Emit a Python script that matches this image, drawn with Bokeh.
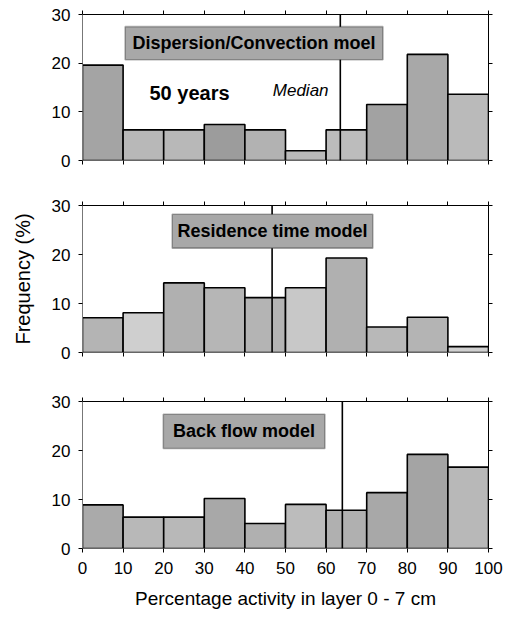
from bokeh.plotting import figure
from bokeh.layouts import column
from bokeh.models import Range1d, LinearAxis, FixedTicker, Span, BoxAnnotation, Label, ColumnDataSource
from bokeh.embed import file_html
from bokeh.resources import INLINE

# ---------------- data ----------------
bin_left = [0, 10, 20, 30, 40, 50, 60, 70, 80, 90]
bin_right = [10, 20, 30, 40, 50, 60, 70, 80, 90, 100]
x_ticks = [0, 10, 20, 30, 40, 50, 60, 70, 80, 90, 100]
y_ticks = [0, 10, 20, 30]

dispersion_freq = [19.6, 6.3, 6.3, 7.4, 6.3, 2.0, 6.3, 11.5, 21.8, 13.6]
residence_freq = [7.1, 8.1, 14.2, 13.2, 11.2, 13.2, 19.3, 5.2, 7.2, 1.2]
backflow_freq = [8.9, 6.4, 6.4, 10.2, 5.1, 9.0, 7.8, 11.4, 19.2, 16.6]
medians = [63.5, 46.7, 64.0]
model_names = ["Dispersion/Convection moel", "Residence time model", "Back flow model"]

# ---------------- styles ----------------
FONT = "Liberation Sans"
shades = [
    ["#a4a4a4", "#b8b8b8", "#b8b8b8", "#9c9c9c", "#b2b2b2", "#bababa", "#bcbcbc", "#a2a2a2", "#a8a8a8", "#bababa"],
    ["#b4b4b4", "#cfcfcf", "#b0b0b0", "#b6b6b6", "#b4b4b4", "#c8c8c8", "#b0b0b0", "#b8b8b8", "#b4b4b4", "#d0d0d0"],
    ["#aaaaaa", "#b8b8b8", "#b8b8b8", "#a8a8a8", "#b0b0b0", "#bcbcbc", "#b0b0b0", "#a8a8a8", "#a4a4a4", "#b8b8b8"],
]
# label box extents (data units): left, right, bottom, top
boxes = [(10.5, 74.0, 20.7, 27.5), (22.1, 71.5, 21.3, 28.2), (19.9, 59.7, 20.4, 27.4)]
layouts = [
    dict(height=190, top=14, bottom=30),
    dict(height=190, top=15, bottom=28),
    dict(height=242, top=21, bottom=74),
]
series = [dispersion_freq, residence_freq, backflow_freq]


def style_axis(ax, labels=True, line_color="#000000"):
    ax.axis_line_color = line_color
    ax.axis_line_width = 1
    ax.major_tick_line_color = "#000000"
    ax.major_tick_out = 4
    ax.major_tick_in = 0
    ax.minor_tick_line_color = None
    if labels:
        ax.major_label_text_font = FONT
        ax.major_label_text_font_size = "17px"
        ax.major_label_text_color = "#000000"
    else:
        ax.major_label_text_font_size = "1px"
        ax.major_label_overrides = {t: "" for t in x_ticks}


figs = []
for i in range(3):
    lay = layouts[i]
    p = figure(width=507, height=lay["height"], output_backend="svg", toolbar_location=None,
               x_range=Range1d(0, 100), y_range=Range1d(0, 30),
               x_axis_location=None, y_axis_location=None,
               min_border_left=82, min_border_right=19,
               min_border_top=lay["top"], min_border_bottom=lay["bottom"])
    p.outline_line_color = None
    p.grid.visible = False
    p.background_fill_color = "white"
    p.border_fill_color = "white"

    xb = LinearAxis(ticker=FixedTicker(ticks=x_ticks))
    style_axis(xb, labels=(i == 2), line_color="#666666")
    xt = LinearAxis(ticker=FixedTicker(ticks=x_ticks))
    style_axis(xt, labels=False)
    yl = LinearAxis(ticker=FixedTicker(ticks=y_ticks))
    style_axis(yl, labels=True, line_color="#777777")
    yr = LinearAxis(ticker=FixedTicker(ticks=y_ticks))
    style_axis(yr, labels=False)
    if i == 2:
        xb.major_label_standoff = 9
        xb.axis_label = "Percentage activity in layer 0 - 7 cm"
        xb.axis_label_text_font = FONT
        xb.axis_label_text_font_size = "19px"
        xb.axis_label_text_font_style = "normal"
        xb.axis_label_text_color = "#000000"
        xb.axis_label_standoff = 11
    if i == 1:
        yl.axis_label = "Frequency (%)"
        yl.axis_label_text_font = FONT
        yl.axis_label_text_font_size = "20px"
        yl.axis_label_text_font_style = "normal"
        yl.axis_label_text_color = "#000000"
        yl.axis_label_standoff = 15
    yl.major_label_standoff = 8
    p.add_layout(xb, "below")
    p.add_layout(xt, "above")
    p.add_layout(yl, "left")
    p.add_layout(yr, "right")

    src = ColumnDataSource(dict(left=bin_left, right=bin_right, top=series[i],
                                bottom=[0] * len(bin_left), color=shades[i]))
    p.quad(left="left", right="right", top="top", bottom="bottom", source=src,
           fill_color="color", line_color="#000000", line_width=1.6)

    p.add_layout(Span(location=medians[i], dimension="height", line_color="#000000", line_width=1.6))

    bl, br, bb, bt = boxes[i]
    p.add_layout(BoxAnnotation(left=bl, right=br, bottom=bb, top=bt, fill_color="#a8a8a8",
                               fill_alpha=1.0, line_color="#000000", line_width=1.6))
    p.add_layout(Label(x=(bl + br) / 2, y=(bb + bt) / 2, text=model_names[i], text_font=FONT,
                       text_font_size="18px", text_font_style="bold", text_align="center",
                       text_baseline="middle", text_color="#000000"))
    if i == 0:
        p.add_layout(Label(x=16.5, y=13.9, text="50 years", text_font=FONT, text_font_size="20px",
                           text_font_style="bold", text_align="left", text_baseline="middle",
                           text_color="#000000"))
        p.add_layout(Label(x=60.6, y=14.4, text="Median", text_font=FONT, text_font_size="17px",
                           text_font_style="italic", text_align="right", text_baseline="middle",
                           text_color="#000000"))
    figs.append(p)

layout = column(*figs, spacing=0)
open("out.html", "w").write(file_html(layout, INLINE))
